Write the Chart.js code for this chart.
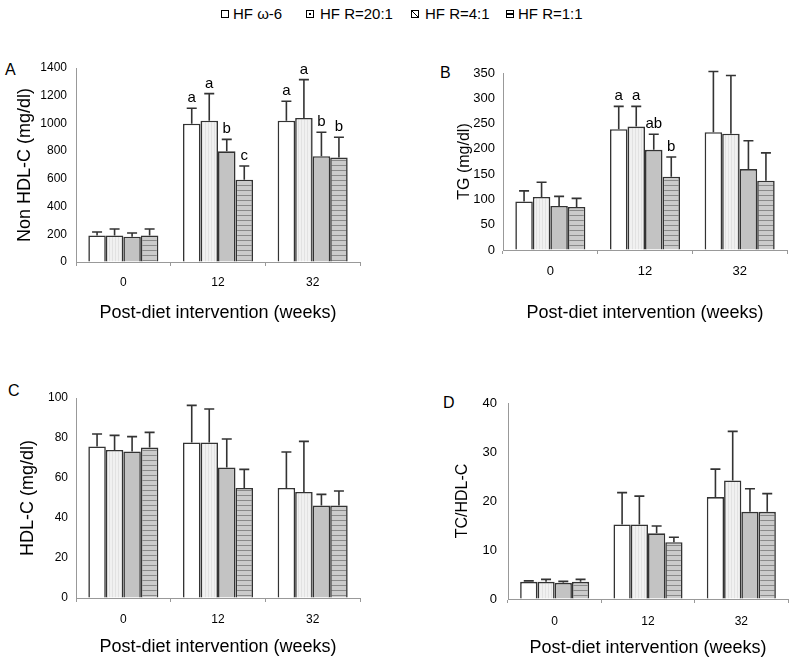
<!DOCTYPE html>
<html>
<head>
<meta charset="utf-8">
<script src="https://cdn.jsdelivr.net/npm/chart.js@4.4.0/dist/chart.umd.min.js"></script>
<style>
  body { margin: 0; background: #fff; }
  #wrap { position: relative; width: 800px; height: 664px; font-family: "Liberation Sans", Arial, sans-serif; color: #000; }
  canvas { position: absolute; }
  .letter { position: absolute; font-size: 16px; line-height: 1; }
  .leg { position: absolute; top: 6px; font-size: 15px; line-height: 16px; white-space: nowrap; }
  .box { position: absolute; top: 10px; width: 6px; height: 6px; border: 1px solid #000; background: #fff; }
</style>
</head>
<body>
<div id="wrap">
  <span class="box" style="left:221px"></span><span class="leg" style="left:233px">HF ω-6</span>
  <span class="box" style="left:306px;background:radial-gradient(circle,#000 0 1px,#fff 1.2px)"></span><span class="leg" style="left:320px">HF R=20:1</span>
  <span class="box" style="left:411px;background:linear-gradient(to top right,#fff 42%,#000 42% 58%,#fff 58%)"></span><span class="leg" style="left:425px">HF R=4:1</span>
  <span class="box" style="left:506px;background:linear-gradient(to bottom,#fff 40%,#000 40% 60%,#fff 60%)"></span><span class="leg" style="left:518px">HF R=1:1</span>

  <div class="letter" style="left:5px;top:62px">A</div>
  <div class="letter" style="left:440px;top:65px">B</div>
  <div class="letter" style="left:8px;top:383px">C</div>
  <div class="letter" style="left:443px;top:395px">D</div>
</div>
<script>
// ====== Données ======
const weeks = ["0", "12", "32"];
const seriesNames = ["HF ω-6", "HF R=20:1", "HF R=4:1", "HF R=1:1"];
const xTitle = "Post-diet intervention (weeks)";

// A : Non HDL-C (moyenne, haut de la barre d'erreur, lettres)
const nonHdlW6    = [192, 998, 1020];
const nonHdlR20   = [192, 1020, 1039];
const nonHdlR4    = [183, 799, 763];
const nonHdlR1    = [192, 594, 755];
const nonHdlW6Up  = [216, 1109, 1160];
const nonHdlR20Up = [238, 1215, 1316];
const nonHdlR4Up  = [209, 885, 936];
const nonHdlR1Up  = [238, 693, 900];
const nonHdlLetters = [["", "a", "a"], ["", "a", "a"], ["", "b", "b"], ["", "c", "b"]];

// B : TG
const tgW6    = [96, 239, 233];
const tgR20   = [105, 244, 230];
const tgR4    = [87, 198, 160];
const tgR1    = [85, 145, 137];
const tgW6Up  = [117, 284, 353];
const tgR20Up = [134, 284, 345];
const tgR4Up  = [106, 229, 216];
const tgR1Up  = [102, 184, 192];
const tgLetters = [["", "a", ""], ["", "a", ""], ["", "ab", ""], ["", "b", ""]];

// C : HDL-C
const hdlW6    = [75.8, 77.8, 55];
const hdlR20   = [74, 77.8, 53];
const hdlR4    = [73.3, 65.3, 46.2];
const hdlR1    = [75.2, 55, 46.2];
const hdlW6Up  = [82, 96.3, 73];
const hdlR20Up = [81.3, 94.5, 78.3];
const hdlR4Up  = [80.7, 79.5, 51.8];
const hdlR1Up  = [82.8, 64.3, 53.5];

// D : TC/HDL-C
const ratioW6    = [3.5, 15.2, 20.8];
const ratioR20   = [3.5, 15.2, 24.2];
const ratioR4    = [3.3, 13.4, 17.8];
const ratioR1    = [3.5, 11.6, 17.8];
const ratioW6Up  = [3.7, 21.7, 26.5];
const ratioR20Up = [4.0, 21.0, 34.2];
const ratioR4Up  = [3.6, 14.9, 22.5];
const ratioR1Up  = [4.0, 12.6, 21.5];

const noLetters = [["", "", ""], ["", "", ""], ["", "", ""], ["", "", ""]];
const FONT = "'Liberation Sans', Arial, sans-serif";

// ====== Motifs de remplissage ======
function makePattern(w, h, draw) {
  const c = document.createElement("canvas");
  c.width = w; c.height = h;
  const g = c.getContext("2d");
  draw(g);
  return g.createPattern(c, "repeat");
}

const fills = [
  "#ffffff",
  makePattern(3, 2, g => {
    g.fillStyle = "#f1f1f1"; g.fillRect(0, 0, 3, 2);
    g.fillStyle = "#e2e2e2"; g.fillRect(1, 0, 1, 2);
  }),
  "#c3c3c3",
  makePattern(4, 5, g => {
    g.fillStyle = "#cbcbcb"; g.fillRect(0, 0, 4, 5);
    g.fillStyle = "#8a8a8a"; g.fillRect(0, 0, 4, 1);
  })
];

// ====== Barres d'erreur + lettres ======
const errorBars = {
  id: "errorBars",
  afterDatasetsDraw(chart) {
    const ctx = chart.ctx;
    const yScale = chart.scales.y;
    chart.data.datasets.forEach((ds, i) => {
      chart.getDatasetMeta(i).data.forEach((bar, j) => {
        const top = yScale.getPixelForValue(ds.upper[j]);
        ctx.save();
        ctx.strokeStyle = "#333";
        ctx.lineWidth = 1.6;
        ctx.beginPath();
        ctx.moveTo(bar.x, bar.y);
        ctx.lineTo(bar.x, top);
        ctx.moveTo(bar.x - 5, top);
        ctx.lineTo(bar.x + 5, top);
        ctx.stroke();
        const l = ds.letters[j];
        if (l) {
          ctx.fillStyle = "#000";
          ctx.font = "15px " + FONT;
          ctx.textAlign = "center";
          ctx.textBaseline = "alphabetic";
          ctx.fillText(l, bar.x, top - 6);
        }
        ctx.restore();
      });
    });
  }
};

// ====== Un panneau ======
function makePanel(p) {
  const canvas = document.createElement("canvas");
  canvas.width = p.w; canvas.height = p.h;
  canvas.style.left = p.x + "px";
  canvas.style.top = p.y + "px";
  document.getElementById("wrap").appendChild(canvas);

  new Chart(canvas.getContext("2d"), {
    type: "bar",
    data: {
      labels: weeks,
      datasets: p.means.map((m, i) => ({
        label: seriesNames[i],
        data: m,
        upper: p.uppers[i],
        letters: p.letters[i],
        backgroundColor: fills[i],
        borderColor: "#333",
        borderWidth: 1.6,
        categoryPercentage: 0.74,
        barPercentage: 1
      }))
    },
    options: {
      responsive: false,
      animation: false,
      layout: { padding: { left: p.pl, top: p.pt, right: p.pr, bottom: 0 } },
      plugins: { legend: { display: false }, tooltip: { enabled: false } },
      scales: {
        x: {
          grid: { drawOnChartArea: false, drawTicks: true, tickLength: 4, color: "#999", offset: true },
          border: { color: "#999", width: 1 },
          ticks: { color: "#000", font: { family: FONT, size: p.xTick }, padding: p.xPad },
          title: { display: true, text: xTitle, color: "#000", font: { family: FONT, size: 18 }, padding: 0 },
          afterFit: s => { s.height = p.xH; }
        },
        y: {
          min: 0, max: p.max,
          grid: { drawOnChartArea: false, drawTicks: false },
          border: { color: "#999", width: 1 },
          ticks: {
            stepSize: p.step, color: "#000", font: { family: FONT, size: p.yTick }, padding: p.yPad,
            callback: v => String(v)
          },
          title: { display: true, text: p.yTitle, color: "#000", font: { family: FONT, size: p.yTitleSize }, padding: 0 },
          afterFit: s => { s.width = p.yW; }
        }
      }
    },
    plugins: [errorBars]
  });
}

// ====== INIT ======
makePanel({
  x: 0, y: 50, w: 380, h: 274, pl: 14, pt: 18, pr: 20, yW: 62, xH: 62,
  max: 1400, step: 200, yTitle: "Non HDL-C (mg/dl)", yTitleSize: 18,
  xTick: 12, yTick: 12, xPad: 9, yPad: 9,
  means: [nonHdlW6, nonHdlR20, nonHdlR4, nonHdlR1],
  uppers: [nonHdlW6Up, nonHdlR20Up, nonHdlR4Up, nonHdlR1Up],
  letters: nonHdlLetters
});
makePanel({
  x: 400, y: 50, w: 400, h: 274, pl: 55, pt: 23, pr: 13, yW: 48, xH: 74,
  max: 350, step: 50, yTitle: "TG (mg/dl)", yTitleSize: 16,
  xTick: 13, yTick: 13, xPad: 10, yPad: 8,
  means: [tgW6, tgR20, tgR4, tgR1],
  uppers: [tgW6Up, tgR20Up, tgR4Up, tgR1Up],
  letters: tgLetters
});
makePanel({
  x: 0, y: 380, w: 380, h: 278, pl: 17, pt: 18, pr: 20, yW: 59, xH: 60,
  max: 100, step: 20, yTitle: "HDL-C (mg/dl)", yTitleSize: 18,
  xTick: 12, yTick: 12, xPad: 10, yPad: 8,
  means: [hdlW6, hdlR20, hdlR4, hdlR1],
  uppers: [hdlW6Up, hdlR20Up, hdlR4Up, hdlR1Up],
  letters: noLetters
});
makePanel({
  x: 400, y: 380, w: 400, h: 279, pl: 53, pt: 23, pr: 12, yW: 55, xH: 60,
  max: 40, step: 10, yTitle: "TC/HDL-C", yTitleSize: 16,
  xTick: 12, yTick: 13, xPad: 11, yPad: 11,
  means: [ratioW6, ratioR20, ratioR4, ratioR1],
  uppers: [ratioW6Up, ratioR20Up, ratioR4Up, ratioR1Up],
  letters: noLetters
});
</script>
</body>
</html>
